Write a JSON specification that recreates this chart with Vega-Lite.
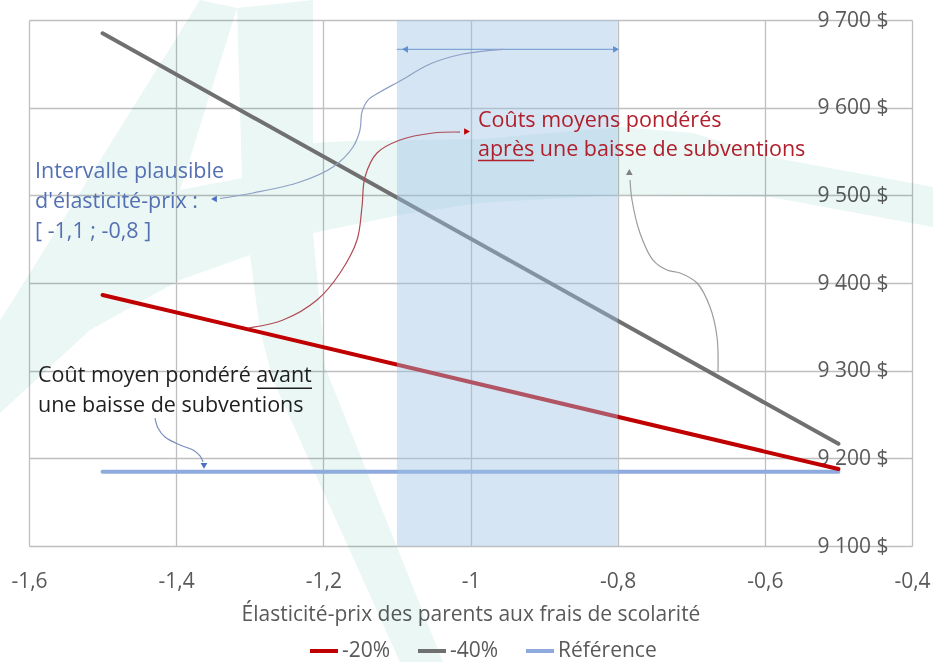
{
  "$schema": "https://vega.github.io/schema/vega-lite/v6.json",
  "width": 883,
  "height": 526,
  "autosize": {"type": "none"},
  "padding": {"left": 29, "top": 20, "right": 21, "bottom": 116},
  "background": "white",
  "config": {"font": "Open Sans", "view": {"stroke": null}},
  "encoding": {
    "x": {
      "field": "x", "type": "quantitative",
      "scale": {"domain": [-1.6, -0.4], "nice": false, "zero": false},
      "axis": {
        "values": [-1.6, -1.4, -1.2, -1, -0.8, -0.6, -0.4],
        "labelExpr": "replace('' + datum.value, '.', ',')",
        "title": "Élasticité-prix des parents aux frais de scolarité",
        "grid": true, "gridColor": "#bfbfbf", "gridWidth": 1.3,
        "ticks": false, "tickSize": 0, "domain": false,
        "labelFont": "Open Sans", "labelFontSize": 21, "labelColor": "#595959",
        "labelPadding": 41, "labelBaseline": "alphabetic", "labelFlush": false, "labelOverlap": false,
        "titleFont": "Open Sans", "titleFontSize": 21, "titleFontWeight": "normal", "titleColor": "#595959",
        "titleBaseline": "alphabetic", "titleY": 74, "titleX": 441.5
      }
    },
    "y": {
      "field": "y", "type": "quantitative",
      "scale": {"domain": [9100, 9700], "nice": false, "zero": false},
      "axis": {
        "orient": "right",
        "values": [9100, 9200, 9300, 9400, 9500, 9600, 9700],
        "labelExpr": "replace(format(datum.value, ','), ',', ' ') + ' $'",
        "title": null,
        "grid": true, "gridColor": "#bfbfbf", "gridWidth": 1.3,
        "ticks": false, "tickSize": 0, "domain": false,
        "labelFont": "Open Sans", "labelFontSize": 21, "labelColor": "#595959",
        "labelAlign": "right", "labelPadding": -24, "labelBaseline": "middle",
        "labelOverlap": false, "labelFlush": false
      }
    }
  },
  "layer": [
    {
      "data": {"values": [
        {"i": 1, "x": -1.6394, "y": 9357.8},
        {"i": 2, "x": -1.6217, "y": 9380.6},
        {"i": 3, "x": -1.3676, "y": 9722.8},
        {"i": 4, "x": -1.3173, "y": 9713.7},
        {"i": 5, "x": -1.3948, "y": 9506.1},
        {"i": 6, "x": -1.3105, "y": 9519.8},
        {"i": 7, "x": -1.3173, "y": 9713.7},
        {"i": 8, "x": -1.214, "y": 9722.8},
        {"i": 9, "x": -1.214, "y": 9559.7},
        {"i": 10, "x": -1.1638, "y": 9562},
        {"i": 11, "x": -0.9871, "y": 9564.3},
        {"i": 12, "x": -0.7968, "y": 9578},
        {"i": 13, "x": -0.6976, "y": 9571.1},
        {"i": 14, "x": -0.593, "y": 9543.7},
        {"i": 15, "x": -0.3714, "y": 9509.5},
        {"i": 16, "x": -0.3714, "y": 9463.9},
        {"i": 17, "x": -0.593, "y": 9498.1},
        {"i": 18, "x": -0.7968, "y": 9500.4},
        {"i": 19, "x": -0.9871, "y": 9491.3},
        {"i": 20, "x": -1.0958, "y": 9477.6},
        {"i": 21, "x": -1.214, "y": 9457},
        {"i": 22, "x": -1.2018, "y": 9346.4},
        {"i": 23, "x": -1.1977, "y": 9304.2},
        {"i": 24, "x": -1.0374, "y": 8967.7},
        {"i": 25, "x": -1.0958, "y": 8967.7},
        {"i": 26, "x": -1.2684, "y": 9289.4},
        {"i": 27, "x": -1.2861, "y": 9346.4},
        {"i": 28, "x": -1.2997, "y": 9431.9},
        {"i": 29, "x": -1.3948, "y": 9403.4},
        {"i": 30, "x": -1.5171, "y": 9346.4},
        {"i": 31, "x": -1.6394, "y": 9251.7}
      ]},
      "mark": {"type": "line", "fill": "#eaf7f4", "stroke": "#eaf7f4", "strokeWidth": 0, "interpolate": "linear-closed", "blend": "multiply"},
      "encoding": {"order": {"field": "i", "type": "quantitative"}}
    },
    {
      "data": {"values": [
        {"s": "Référence", "x": -1.5, "y": 9184.8},
        {"s": "Référence", "x": -0.5, "y": 9184.8},
        {"s": "-20%", "x": -1.5, "y": 9386.3},
        {"s": "-20%", "x": -0.5, "y": 9187.8},
        {"s": "-40%", "x": -1.5, "y": 9684.8},
        {"s": "-40%", "x": -0.5, "y": 9216.5}
      ]},
      "mark": {"type": "line", "strokeWidth": 4, "strokeCap": "round"},
      "encoding": {
        "color": {
          "field": "s", "type": "nominal",
          "scale": {"domain": ["-20%", "-40%", "Référence"], "range": ["#c00000", "#707070", "#8faadc"]},
          "legend": {
            "orient": "none", "direction": "horizontal", "legendX": 279, "legendY": 615,
            "title": null, "symbolType": "stroke", "symbolSize": 784, "symbolStrokeWidth": 4,
            "labelFont": "Open Sans", "labelFontSize": 21, "labelColor": "#595959",
            "labelOffset": 2, "columnPadding": 19, "padding": 0
          }
        },
        "order": {"field": "x", "type": "quantitative"}
      }
    },
    {
      "data": {"values": [{"x": -1.1, "x2": -0.8, "y": 9100, "y2": 9700}]},
      "mark": {"type": "rect", "color": "#9dc3e6", "opacity": 0.43},
      "encoding": {"x2": {"field": "x2"}, "y2": {"field": "y2"}}
    },
    {
      "data": {"values": [{"x": -1.1, "x2": -0.8, "y": 9666.6}]},
      "mark": {"type": "rule", "color": "#7fa6d6", "strokeWidth": 1.2},
      "encoding": {"x2": {"field": "x2"}}
    },
    {
      "data": {"values": [{"x": -1.089, "y": 9666.6}]},
      "mark": {"type": "point", "shape": "triangle-left", "filled": true, "color": "#5f8fd0", "size": 45, "opacity": 1}
    },
    {
      "data": {"values": [{"x": -0.8023, "y": 9666.6}]},
      "mark": {"type": "point", "shape": "triangle-right", "filled": true, "color": "#5f8fd0", "size": 45, "opacity": 1}
    },
    {
      "data": {"values": [
        {"i": 1, "x": -0.9558, "y": 9666.6},
        {"i": 2, "x": -1.0102, "y": 9661.2},
        {"i": 3, "x": -1.055, "y": 9649.8},
        {"i": 4, "x": -1.0958, "y": 9630.4},
        {"i": 5, "x": -1.123, "y": 9617.9},
        {"i": 6, "x": -1.1393, "y": 9608.7},
        {"i": 7, "x": -1.1475, "y": 9595.1},
        {"i": 8, "x": -1.1502, "y": 9574.5},
        {"i": 9, "x": -1.1597, "y": 9555.1},
        {"i": 10, "x": -1.1869, "y": 9532.3},
        {"i": 11, "x": -1.2317, "y": 9515.2},
        {"i": 12, "x": -1.2956, "y": 9502.7},
        {"i": 13, "x": -1.3404, "y": 9496.4}
      ]},
      "mark": {"type": "line", "color": "#8ea0c5", "strokeWidth": 1.2, "interpolate": "catmull-rom"},
      "encoding": {"order": {"field": "i", "type": "quantitative"}}
    },
    {
      "data": {"values": [{"x": -1.3486, "y": 9495.8}]},
      "mark": {"type": "point", "shape": "triangle-left", "filled": true, "color": "#4a70c0", "size": 45, "opacity": 1}
    },
    {
      "data": {"values": [
        {"i": 1, "x": -1.3024, "y": 9348.7},
        {"i": 2, "x": -1.2548, "y": 9357.8},
        {"i": 3, "x": -1.2086, "y": 9380.6},
        {"i": 4, "x": -1.1773, "y": 9411.4},
        {"i": 5, "x": -1.1542, "y": 9449.1},
        {"i": 6, "x": -1.1475, "y": 9486.7},
        {"i": 7, "x": -1.1434, "y": 9520.9},
        {"i": 8, "x": -1.1271, "y": 9548.3},
        {"i": 9, "x": -1.0958, "y": 9563.1},
        {"i": 10, "x": -1.051, "y": 9571.1},
        {"i": 11, "x": -1.0143, "y": 9572.2}
      ]},
      "mark": {"type": "line", "color": "#b04a55", "strokeWidth": 1.2, "interpolate": "catmull-rom"},
      "encoding": {"order": {"field": "i", "type": "quantitative"}}
    },
    {
      "data": {"values": [{"x": -1.0047, "y": 9572.8}]},
      "mark": {"type": "point", "shape": "triangle-right", "filled": true, "color": "#c00000", "size": 45, "opacity": 1}
    },
    {
      "data": {"values": [
        {"i": 1, "x": -0.6636, "y": 9298.5},
        {"i": 2, "x": -0.665, "y": 9338.4},
        {"i": 3, "x": -0.6745, "y": 9372.6},
        {"i": 4, "x": -0.6922, "y": 9400},
        {"i": 5, "x": -0.7153, "y": 9411.4},
        {"i": 6, "x": -0.733, "y": 9414.8},
        {"i": 7, "x": -0.752, "y": 9426.2},
        {"i": 8, "x": -0.7697, "y": 9457},
        {"i": 9, "x": -0.7805, "y": 9494.7},
        {"i": 10, "x": -0.7832, "y": 9517.5}
      ]},
      "mark": {"type": "line", "color": "#9c9c9c", "strokeWidth": 1.2, "interpolate": "catmull-rom"},
      "encoding": {"order": {"field": "i", "type": "quantitative"}}
    },
    {
      "data": {"values": [{"x": -0.7842, "y": 9526.6}]},
      "mark": {"type": "point", "shape": "triangle-up", "filled": true, "color": "#808080", "size": 45, "opacity": 1}
    },
    {
      "data": {"values": [
        {"i": 1, "x": -1.4288, "y": 9246},
        {"i": 2, "x": -1.4247, "y": 9234.6},
        {"i": 3, "x": -1.4152, "y": 9224.3},
        {"i": 4, "x": -1.3948, "y": 9215.2},
        {"i": 5, "x": -1.3771, "y": 9209.5},
        {"i": 6, "x": -1.3676, "y": 9202.7},
        {"i": 7, "x": -1.3635, "y": 9195.8}
      ]},
      "mark": {"type": "line", "color": "#7a8fbf", "strokeWidth": 1.2, "interpolate": "catmull-rom"},
      "encoding": {"order": {"field": "i", "type": "quantitative"}}
    },
    {
      "data": {"values": [{"x": -1.3622, "y": 9191.3}]},
      "mark": {"type": "point", "shape": "triangle-down", "filled": true, "color": "#4a70c0", "size": 45, "opacity": 1}
    },
    {
      "data": {"values": [
        {"x": -1.5918, "y": 9519.8, "t": "Intervalle plausible"},
        {"x": -1.5918, "y": 9485.6, "t": "d'élasticité-prix :"},
        {"x": -1.5918, "y": 9451.3, "t": "[ -1,1 ; -0,8 ]"}
      ]},
      "mark": {"type": "text", "align": "left", "baseline": "alphabetic", "font": "Open Sans", "fontSize": 21.5, "color": "#5470b3"},
      "encoding": {"text": {"field": "t"}}
    },
    {
      "data": {"values": [
        {"x": -0.9898, "y": 9578, "t": "Coûts moyens pondérés"},
        {"x": -0.9898, "y": 9544.9, "t": "après une baisse de subventions"}
      ]},
      "mark": {"type": "text", "align": "left", "baseline": "alphabetic", "font": "Open Sans", "fontSize": 21.5, "color": "#b0202c"},
      "encoding": {"text": {"field": "t"}}
    },
    {
      "data": {"values": [
        {"x": -1.5878, "y": 9287.1, "t": "Coût moyen pondéré avant"},
        {"x": -1.5878, "y": 9252.9, "t": "une baisse de subventions"}
      ]},
      "mark": {"type": "text", "align": "left", "baseline": "alphabetic", "font": "Open Sans", "fontSize": 21.5, "color": "#1f1f1f"},
      "encoding": {"text": {"field": "t"}}
    },
    {
      "data": {"values": [{"x": -0.9898, "x2": -0.9137, "y": 9539.7}]},
      "mark": {"type": "rule", "color": "#b0202c", "strokeWidth": 1.5},
      "encoding": {"x2": {"field": "x2"}}
    },
    {
      "data": {"values": [{"x": -1.2901, "x2": -1.2154, "y": 9279.9}]},
      "mark": {"type": "rule", "color": "#1f1f1f", "strokeWidth": 1.5},
      "encoding": {"x2": {"field": "x2"}}
    }
  ]
}
